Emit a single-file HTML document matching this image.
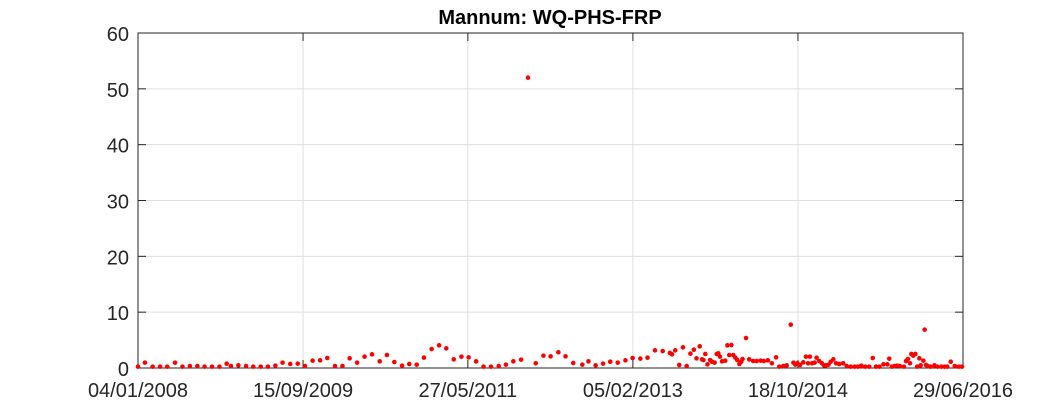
<!DOCTYPE html>
<html><head><meta charset="utf-8"><style>
body{margin:0;background:#fff;}
svg{display:block;font-family:"Liberation Sans",Arial,sans-serif;}
</style></head><body>
<svg id="chart" width="1063" height="413">
<text x="550" y="24" text-anchor="middle" font-size="20" font-weight="bold" fill="#000">Mannum: WQ-PHS-FRP</text>
<g id="grid"></g><g id="axes"></g><g id="marks"></g>
</svg>
<script>
const days=[0,26,55,83,110,139,167,195,223,250,278,306,333,349,377,406,433,461,488,516,543,572,600,627,656,684,711,740,768,795,823,851,879,908,935,963,992,1019,1047,1074,1103,1131,1158,1186,1215,1242,1270,1298,1326,1355,1382,1410,1439,1465,1494,
1523,1550,1579,1606,1635,1669,1692,1719,1747,1774,1802,1831,1858,1887,1914,1942,1971,1998,2006,2018,2033,2047,2061,2075,2088,2098,2110,2119,2124,2131,2139,2149,2156,2166,2174,2180,2186,2194,2206,2214,2229,2221,2236,2244,2251,2259,2266,2271,2284,2296,2311,2324,2339,2351,2366,2381,2397,2409,2424,2437,2452,2462,2469,2477,2487,2499,2509,2524,2517,2532,2542,2549,2559,2569,2577,2584,2594,2602,2612,2622,2634,2649,2662,2677,2692,2704,2717,2732,2747,2760,2772,2785,2800,2815,2822,2832,2842,2852,2862,2877,2885,2892,2900,2905,2912,2920,2927,2935,2940,2950,2955,2960,2967,2977,2992,3003,3018,3030,3040,3053,3068,3083,3095];
const values=[0.24,0.96,0.24,0.24,0.24,0.96,0.24,0.36,0.36,0.24,0.24,0.24,0.78,0.36,0.48,0.36,0.24,0.24,0.24,0.42,0.96,0.72,0.78,0.36,1.31,1.37,1.79,0.36,0.36,1.73,0.96,2.03,2.45,1.19,2.33,1.07,0.42,0.72,0.6,1.85,3.4,4.06,3.52,1.55,2.03,1.91,1.19,0.24,0.24,0.36,0.6,1.19,1.49,52,0.84,
2.21,2.09,2.81,2.09,0.9,0.6,1.19,0.48,0.78,1.13,0.96,1.37,1.79,1.67,1.85,3.16,3.04,2.69,2.45,3.16,0.54,3.7,0.36,2.57,3.28,1.73,3.88,1.55,1.43,2.51,0.66,1.43,1.13,0.96,2.51,2.63,2.03,1.19,1.31,4.06,4.12,2.33,2.33,1.85,1.43,0.72,1.13,1.61,5.37,1.55,1.25,1.25,1.31,1.25,1.37,0.84,1.91,0.24,0.36,0.48,7.76,0.96,0.6,0.84,0.54,1.01,2.03,2.03,0.84,0.84,0.96,1.85,1.25,0.84,0.48,0.48,0.6,1.13,1.55,0.84,0.72,0.84,0.36,0.24,0.24,0.24,0.42,0.24,0.24,1.79,0.24,0.24,0.66,0.66,1.67,0.24,0.36,0.42,0.36,0.24,1.25,1.61,0.84,2.51,2.21,2.51,0.24,1.73,0.48,1.31,6.87,0.54,0.36,0.24,0.48,0.24,0.24,0.24,0.24,1.13,0.36,0.24,0.24];
const xTickDays=[0,620,1239,1859,2479,3099];
const xTickLabels=["04/01/2008","15/09/2009","27/05/2011","05/02/2013","18/10/2014","29/06/2016"];
const yTicks=[0,10,20,30,40,50,60];

const L=138,R=963,T=33,B=368,NS="http://www.w3.org/2000/svg";
const xMax=3099,yMax=60;
function sx(d){return L+(d/xMax)*(R-L);}
function sy(v){return B-(v/yMax)*(B-T);}
function mk(tag,attrs,parent){const e=document.createElementNS(NS,tag);for(const k in attrs)e.setAttribute(k,attrs[k]);parent.appendChild(e);return e;}
const grid=document.getElementById('grid'),axes=document.getElementById('axes'),marks=document.getElementById('marks');
xTickDays.forEach((d,i)=>{
  const x=sx(d);
  const g=mk('line',{x1:x,x2:x,y1:T,y2:B,stroke:'#dfdfdf','stroke-width':1},grid);
  
  
  mk('line',{x1:x,x2:x,y1:B,y2:B-8,stroke:'#262626'},axes);
  mk('line',{x1:x,x2:x,y1:T,y2:T+8,stroke:'#262626'},axes);
  const t=mk('text',{x:x,y:B+29,'text-anchor':'middle','font-size':20,fill:'#262626'},axes);
  t.textContent=xTickLabels[i];
  
  
});
yTicks.forEach(v=>{
  const y=sy(v);
  const g=mk('line',{x1:L,x2:R,y1:y,y2:y,stroke:'#dfdfdf','stroke-width':1},grid);
  
  
  mk('line',{x1:L,x2:L+8,y1:y,y2:y,stroke:'#262626'},axes);
  mk('line',{x1:R,x2:R-8,y1:y,y2:y,stroke:'#262626'},axes);
  const t=mk('text',{x:129,y:y+8,'text-anchor':'end','font-size':20,fill:'#262626'},axes);
  t.textContent=v;
  
  
});
const box=mk('rect',{x:L,y:T,width:R-L,height:B-T,fill:'none',stroke:'#262626','stroke-width':1},axes);


days.forEach((d,i)=>{
  const c=mk('circle',{cx:sx(d),cy:sy(values[i]),r:2.3,fill:'#ff0000'},marks);
  
  
});
</script>
</body></html>
